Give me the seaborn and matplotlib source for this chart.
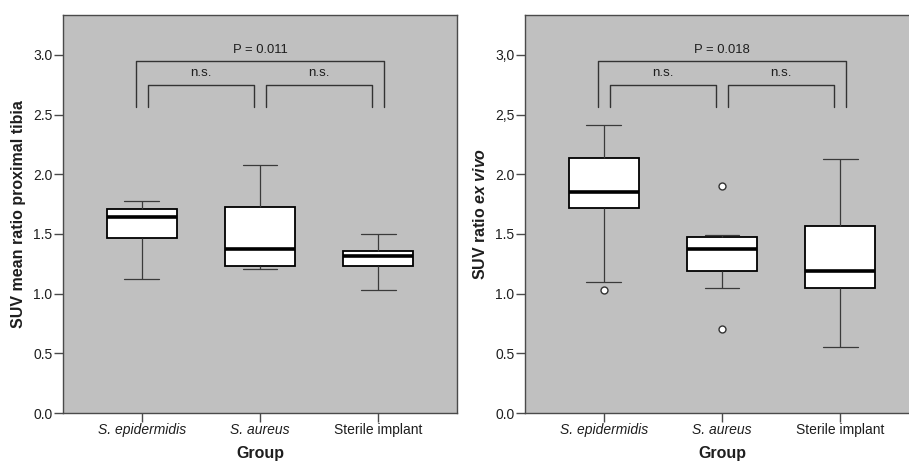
import numpy as np
import pandas as pd
import matplotlib
matplotlib.use("Agg")
import matplotlib.pyplot as plt
import seaborn as sns

groups = ["S. epidermidis", "S. aureus", "Sterile implant"]

# values: sorted samples chosen so that quartiles/whiskers match
tibia_epi = [1.12, 1.12, 1.467, 1.467, 1.645, 1.71, 1.71, 1.78, 1.78]
tibia_aur = [1.207, 1.207, 1.235, 1.235, 1.377, 1.727, 1.727, 2.08, 2.08]
tibia_ste = [1.034, 1.034, 1.23, 1.23, 1.318, 1.36, 1.36, 1.50, 1.50]

exvivo_epi = [1.028, 1.098, 1.718, 1.718, 1.85, 2.14, 2.14, 2.414, 2.414]
exvivo_aur = [0.704, 1.048, 1.193, 1.193, 1.377, 1.473, 1.473, 1.495, 1.905]
exvivo_ste = [0.556, 0.556, 1.05, 1.05, 1.19, 1.57, 1.57, 2.129, 2.129]

yticks = [0.0, 0.5, 1.0, 1.5, 2.0, 2.5, 3.0]
left_ylabels = ["0.0", "0.5", "1.0", "1.5", "2.0", "2.5", "3.0"]
right_ylabels = ["0.0", "0.5", "1.0", "1.5", "2.0", "2,5", "3,0"]

left_p = "P = 0.011"
right_p = "P = 0.018"

sns.set_style("white")
plt.rcParams["font.family"] = ["Liberation Sans", "DejaVu Sans"]
plt.rcParams["mathtext.fontset"] = "custom"
plt.rcParams["mathtext.rm"] = "Liberation Sans"
plt.rcParams["mathtext.it"] = "Liberation Sans:italic"
plt.rcParams["mathtext.bf"] = "Liberation Sans:bold"
plt.rcParams["mathtext.bfit"] = "Liberation Sans:italic:bold"

BG = "#c0c0c0"
SPINE = "#4a4a4a"
TXT = "#1e1e1e"


def make_df(a, b, c):
    return pd.DataFrame({
        "group": [groups[0]] * len(a) + [groups[1]] * len(b) + [groups[2]] * len(c),
        "value": a + b + c,
    })


def draw_panel(ax, df, whis, ylabels, ylabel, ptext):
    ax.set_facecolor(BG)
    sns.boxplot(data=df, x="group", y="value", order=groups, ax=ax,
                width=0.59, color="white", saturation=1, whis=whis,
                linecolor="black", linewidth=1.3, fliersize=5,
                flierprops=dict(marker="o", markerfacecolor="white",
                                markeredgecolor="#333333", markeredgewidth=1),
                medianprops=dict(color="black", linewidth=2.6),
                whiskerprops=dict(color="#3a3a3a", linewidth=0.9),
                capprops=dict(color="#3a3a3a", linewidth=0.9))

    ax.set_xlim(-0.667, 2.667)
    ax.set_ylim(0, 3.335)
    ax.set_yticks(yticks)
    ax.set_yticklabels(ylabels, fontsize=10, color=TXT)
    ax.set_xticks([0, 1, 2])
    ax.set_xticklabels(groups, fontsize=10, color=TXT)
    for lbl in ax.get_xticklabels()[:2]:
        lbl.set_fontstyle("italic")

    ax.tick_params(axis="both", which="major", length=6.5, width=1,
                   color=SPINE, pad=1, left=True, bottom=True)
    for s in ax.spines.values():
        s.set_color(SPINE)
        s.set_linewidth(1)

    ax.set_xlabel("Group", fontsize=11.5, fontweight="bold", color=TXT)
    ax.xaxis.set_label_coords(0.5, -0.101)
    ax.xaxis.label.set_va("center")
    ax.set_ylabel(ylabel, fontsize=11.5, fontweight="bold", color=TXT)
    ax.yaxis.set_label_coords(-0.113, 0.5)
    ax.yaxis.label.set_va("center")

    # significance brackets
    lc = "#333333"
    leg = 2.56
    x0, x2 = -0.05, 2.05
    ax.plot([x0, x0, x2, x2], [leg, 2.948, 2.948, leg], color=lc, lw=1)
    ax.plot([0.05, 0.05, 0.95, 0.95], [leg, 2.752, 2.752, leg], color=lc, lw=1)
    ax.plot([1.05, 1.05, 1.95, 1.95], [leg, 2.752, 2.752, leg], color=lc, lw=1)
    ax.text(1.0, 3.045, ptext, ha="center", va="center", fontsize=9.4, color=TXT)
    ax.text(0.5, 2.85, "n.s.", ha="center", va="center", fontsize=9.6, color=TXT)
    ax.text(1.5, 2.85, "n.s.", ha="center", va="center", fontsize=9.6, color=TXT)


fig = plt.figure(figsize=(9.09, 4.61), dpi=100)
ax1 = fig.add_axes([63 / 909, 1 - 413 / 461, 394 / 909, 398 / 461])
ax2 = fig.add_axes([525 / 909, 1 - 413 / 461, 394 / 909, 398 / 461])

draw_panel(ax1, make_df(tibia_epi, tibia_aur, tibia_ste), (0, 100),
           left_ylabels, "SUV mean ratio proximal tibia", left_p)
draw_panel(ax2, make_df(exvivo_epi, exvivo_aur, exvivo_ste), 1.5,
           right_ylabels, r"SUV ratio $\mathbfit{ex\ vivo}$", right_p)

fig.savefig("out.png", dpi=100, facecolor="white")
